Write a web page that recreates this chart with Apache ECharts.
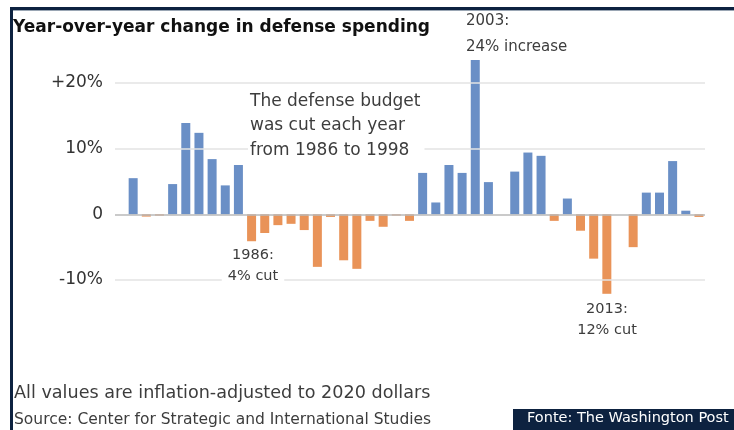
<!DOCTYPE html>
<html><head><meta charset="utf-8">
<script src="https://cdn.jsdelivr.net/npm/echarts@6/dist/echarts.min.js"></script>
<style>html,body{margin:0;padding:0;background:#fff}#c{width:734px;height:430px}</style>
</head><body><div id="c"></div>
<script>
const years = [1977,1978,1979,1980,1981,1982,1983,1984,1985,1986,1987,1988,1989,1990,1991,1992,1993,1994,1995,1996,1997,1998,1999,2000,2001,2002,2003,2004,2005,2006,2007,2008,2009,2010,2011,2012,2013,2014,2015,2016,2017,2018,2019,2020];
const changes = [5.5,-0.35,-0.2,4.6,13.9,12.4,8.4,4.4,7.5,-4.1,-2.85,-1.65,-1.45,-2.4,-8.0,-0.4,-7.0,-8.3,-1.0,-1.9,-0.2,-1.0,6.3,1.8,7.5,6.3,23.5,4.9,0,6.5,9.4,8.9,-1.0,2.4,-2.5,-6.75,-12.1,0,-5.0,3.3,3.3,8.1,0.55,-0.4];
const yTickLabels = {"20":"+20%","10":"10%","0":"0","-10":"-10%"};
const gridValues = [20,10,-10];

const chart = echarts.init(document.getElementById('c'));
const F = '"DejaVu Sans", sans-serif';
const txt = '#3d3d3d';
function T(x,y,text,size,opts){return Object.assign({type:'text',x:x,y:y,z:70,style:Object.assign({text:text,fill:txt,font:size+'px '+F},opts||{})});}
chart.setOption({
  animation:false,
  grid:{left:115,right:29,top:17.2,bottom:84.3,containLabel:false},
  xAxis:{type:'value',min:1975.62,max:2020.46,show:false},
  yAxis:{type:'value',min:-20,max:30,interval:10,
    axisLine:{show:false},axisTick:{show:false},splitLine:{show:false},
    axisLabel:{color:'#333',fontSize:17,fontFamily:F,margin:12,
      formatter:v=>yTickLabels[String(v)]||''}},
  series:[
    {type:'line',data:[],z:1,silent:true,
     markLine:{silent:true,symbol:'none',label:{show:false},
       lineStyle:{color:'#e3e3e3',width:1.5,type:'solid'},
       data:gridValues.map(v=>({yAxis:v}))}},
    {type:'bar',z:2,barWidth:9,
     data:years.map((y,i)=>[y,changes[i]]),
     itemStyle:{color:p=>p.value[1]>=0?'#6a8fc6':'#e99358'},
     markLine:{silent:true,symbol:'none',label:{show:false},z:3,
       lineStyle:{color:'#b8b8b8',width:1.5,type:'solid'},data:[{yAxis:0}]}}
  ],
  graphic:[
    {type:'rect',shape:{x:10,y:7,width:724,height:3},style:{fill:'#0d2240'},z:60},
    {type:'rect',shape:{x:10,y:10,width:724,height:1},style:{fill:'#9aa6b4'},z:60},
    {type:'rect',shape:{x:10,y:7,width:3,height:423},style:{fill:'#0d2240'},z:60},
    T(13,19,'Year-over-year change in defense spending',17,{font:'bold 17px '+F,fill:'#111'}),
    T(466,14,'2003:',15),
    T(466,40,'24% increase',15),
    T(248,89,'The defense budget\nwas cut each year\nfrom 1986 to 1998',17,{lineHeight:24.5,backgroundColor:'#fff',padding:[0,4,0,2]}),
    T(253,245,'1986:\n4% cut',14.5,{align:'center',lineHeight:21,backgroundColor:'#fff',padding:[0,6]}),
    T(607,299,'2013:\n12% cut',14.5,{align:'center',lineHeight:21}),
    T(14,384,'All values are inflation-adjusted to 2020 dollars',17.6),
    T(14,412,'Source: Center for Strategic and International Studies',15.5),
    {type:'rect',shape:{x:513,y:409,width:221,height:21},style:{fill:'#0d2240'},z:60},
    T(527,411,'Fonte: The Washington Post',14.5,{fill:'#fff'})
  ]
});
</script></body></html>
